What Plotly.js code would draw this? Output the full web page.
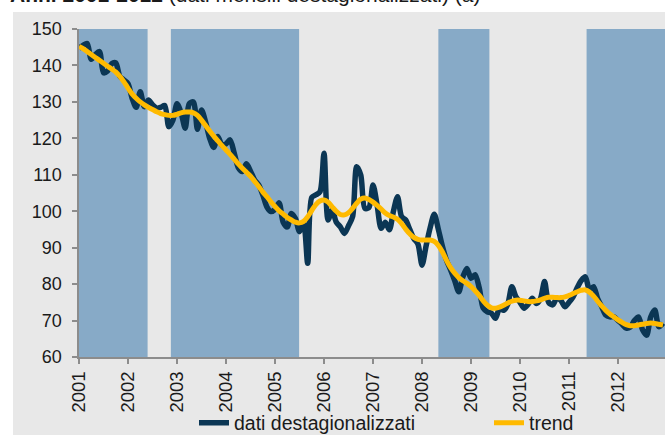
<!DOCTYPE html>
<html>
<head>
<meta charset="utf-8">
<script src="https://cdn.plot.ly/plotly-3.0.1.min.js"></script>
<style>html,body{margin:0;padding:0;background:#fff;}#chart{width:665px;height:435px;}</style>
</head>
<body>
<div id="chart"></div>
<script>
// Monthly index 2001-01 .. 2012-12 (0..143)
const years = ["2001","2002","2003","2004","2005","2006","2007","2008","2009","2010","2011","2012"];
const yearTickPos = [0,12,24,36,48,60,72,84,96,108,120,132];

const datiDestagionalizzati = [
  144.7,145.5,146.0,141.7,143.0,143.8,138.0,138.5,140.5,140.7,137.0,136.0,
  135.0,131.0,128.5,132.8,128.7,130.5,129.2,128.3,128.5,129.0,123.2,125.0,
  129.5,127.0,122.8,129.5,130.0,122.5,127.8,124.5,120.0,117.5,120.5,118.2,
  118.5,119.6,116.0,112.0,110.9,113.0,111.0,108.6,107.2,104.5,101.2,99.9,
  100.5,102.3,97.0,95.7,99.4,98.0,94.4,96.7,85.7,103.8,104.5,105.3,
  115.9,97.6,100.3,97.0,95.7,93.9,96.0,98.5,112.2,109.9,100.8,101.0,
  107.2,101.7,95.3,97.0,94.9,100.0,104.0,98.5,97.6,95.0,92.5,91.0,
  85.2,90.5,95.5,99.2,95.0,90.3,86.5,83.9,81.0,77.9,82.0,84.3,
  81.6,82.6,79.0,73.4,72.4,72.0,70.6,73.4,72.8,74.5,79.3,76.5,
  75.0,73.4,74.5,76.1,74.7,76.0,80.7,75.0,74.3,76.1,75.5,73.8,
  75.0,76.5,79.0,81.0,82.0,78.4,79.3,76.0,73.8,71.5,71.0,71.0,
  70.0,69.0,67.9,68.2,70.0,71.0,67.5,66.0,71.0,72.9,68.3,69.3
];

const trend = [
  145.2,144.6,143.8,143.0,142.2,141.4,140.6,139.8,139.0,138.2,137.0,135.5,
  133.8,132.2,131.0,130.0,129.2,128.5,127.9,127.3,126.8,126.5,126.3,126.3,
  126.6,127.0,127.2,127.2,127.0,126.3,125.0,123.5,122.0,120.6,119.3,118.0,
  116.8,115.6,114.3,113.0,111.8,110.7,109.6,108.2,106.8,105.3,104.0,102.6,
  101.3,100.1,99.2,98.3,97.6,97.0,96.8,97.2,98.5,100.2,101.8,102.8,
  103.1,102.5,101.2,100.0,99.1,99.0,99.6,100.8,102.2,103.3,103.6,103.2,
  102.5,101.6,100.6,99.5,98.8,98.4,97.8,96.6,95.1,93.8,92.8,92.3,
  92.1,92.1,92.1,91.7,90.6,88.8,86.5,84.5,83.0,81.8,80.9,80.2,
  79.3,78.2,76.9,75.4,74.2,73.5,73.4,73.7,74.2,74.8,75.3,75.6,
  75.6,75.4,75.2,75.2,75.4,75.7,76.1,76.4,76.4,76.3,76.3,76.5,
  76.9,77.4,77.9,78.3,78.4,77.8,76.7,75.3,74.0,72.8,71.8,71.0,
  70.2,69.5,68.9,68.6,68.6,68.8,69.0,69.2,69.3,69.2,69.0,68.8
];

// Shaded periods (month index)
const shadeStart = [0, 22.5, 88.0, 124.3];
const shadeEnd   = [16.8, 53.9, 100.5, 143.5];

const monthIdx = datiDestagionalizzati.map((_, i) => i);

const W = 665, H = 435, mL = 79, mR = 0, mT = 29, mB = 78;
const pw = W - mL - mR, ph = H - mT - mB;
const px2x = p => (p - mL) / pw;
const py2y = p => 1 - (p - mT) / ph;

const FONT = "Liberation Sans, Arial, sans-serif";
const TXT = '#1a1a1a';

const shapes = [];
// grey panel
shapes.push({type:'rect', xref:'paper', yref:'paper', layer:'below',
  x0:px2x(13), x1:px2x(670), y0:py2y(440), y1:py2y(12),
  fillcolor:'#E8E8E8', line:{width:0}});
for (let k = 0; k < shadeStart.length; k++) {
  shapes.push({type:'rect', xref:'x', yref:'paper', layer:'below',
    x0:shadeStart[k], x1:shadeEnd[k], y0:0, y1:1,
    fillcolor:'#87AAC7', line:{width:0}});
}

const data = [
  {x: monthIdx, y: datiDestagionalizzati, type:'scatter', mode:'lines',
   name:'dati destagionalizzati', legend:'legend',
   line:{color:'#0B3654', width:5.5, shape:'spline', smoothing:0.8}},
  {x: monthIdx, y: trend, type:'scatter', mode:'lines', name:'trend', legend:'legend2',
   line:{color:'#FFBA00', width:5, shape:'spline', smoothing:1}}
];

const legendBase = {orientation:'h', xanchor:'left', yanchor:'middle',
  bgcolor:'rgba(0,0,0,0)', font:{family:FONT, size:19.5, color:TXT}, itemwidth:30};

const layout = {
  width: W, height: H,
  margin: {l:mL, r:mR, t:mT, b:mB, pad:0, autoexpand:false},
  paper_bgcolor:'#ffffff',
  plot_bgcolor:'rgba(0,0,0,0)',
  font: {family: FONT, size: 18, color: TXT},
  showlegend: true,
  legend: Object.assign({}, legendBase, {x:px2x(194), y:py2y(423)}),
  legend2: Object.assign({}, legendBase, {x:px2x(489), y:py2y(423)}),
  xaxis: {range:[0,143.5], tickmode:'array', tickvals:yearTickPos, ticktext:years,
    tickangle:-90, showgrid:false, zeroline:false, showline:true, linecolor:'#8c8c8c',
    linewidth:2, ticks:'outside', ticklen:5, tickcolor:'#8c8c8c', tickwidth:2,
    tickfont:{family:FONT, size:18.5, color:TXT}, automargin:false, fixedrange:true},
  yaxis: {range:[60,150], tickvals:[60,70,80,90,100,110,120,130,140,150],
    showgrid:false, zeroline:false, showline:true, linecolor:'#8c8c8c',
    linewidth:2.5, ticks:'outside', ticklen:5, tickcolor:'#8c8c8c', tickwidth:2,
    tickfont:{family:FONT, size:18, color:TXT}, ticklabelstandoff:6,
    automargin:false, fixedrange:true},
  shapes: shapes,
  annotations: [{
    xref:'paper', yref:'paper', x:px2x(8), y:py2y(8), xanchor:'left', yanchor:'bottom',
    text:'<b>Anni 2001-2012</b> (dati mensili destagionalizzati) (a)',
    showarrow:false, font:{family:FONT, size:21, color:TXT}
  }]
};

Plotly.newPlot('chart', data, layout, {displayModeBar:false, staticPlot:true});
</script>
</body>
</html>
